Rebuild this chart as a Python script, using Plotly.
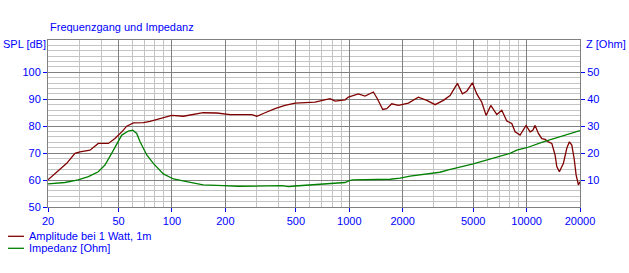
import plotly.graph_objects as go

# ---- data ----
spl_freq = [20, 22.9, 25.5, 28.4, 30.3, 34.5, 38.4, 43.8, 47.7, 52.1, 55.6, 60.6, 69, 75.2, 85.6,
            99.7, 116, 150, 179, 213, 282, 301, 335, 381, 434, 495, 641, 730, 779, 831, 947, 988,
            1125, 1227, 1367, 1440, 1544, 1627, 1736, 1891, 2154, 2452, 2736, 3046, 3394, 3702,
            4070, 4342, 4598, 4946, 5236, 5586, 5908, 6280, 6788, 7244, 7730, 8248, 8610, 9186,
            9932, 10462, 10834, 11164, 11652, 12178, 12712, 13270, 13868, 14472, 14796, 15304,
            16122, 16848, 17428, 17978, 18524, 19012, 19590, 20000]
spl_db = [60.1, 63.4, 66.2, 69.9, 70.5, 71.1, 73.6, 73.6, 75.4, 77.9, 80.0, 81.2, 81.3, 81.8, 82.8,
          84.0, 83.7, 85.0, 84.9, 84.3, 84.3, 83.7, 85.0, 86.5, 87.7, 88.6, 88.9, 89.9, 90.2, 89.3,
          89.8, 90.8, 92.0, 91.2, 92.7, 90.2, 86.2, 86.5, 88.3, 87.7, 88.6, 90.8, 89.6, 88.0, 89.6,
          91.4, 95.9, 92.0, 93.0, 96.1, 92.0, 88.9, 84.0, 87.7, 84.3, 85.9, 81.9, 81.0, 77.9, 76.7,
          80.3, 77.9, 78.5, 80.3, 77.3, 75.4, 75.1, 74.2, 73.6, 69.3, 65.0, 63.1, 66.2, 71.8, 74.2,
          73.0, 68.1, 61.9, 58.2, 59.4]

z_freq = [20, 24.9, 29.6, 33.8, 38.4, 41.9, 45.7, 48.8, 52.1, 56.8, 60.1, 63.3, 66.1, 72.1, 78.5,
          89.4, 102, 121, 150, 195, 236, 416, 455, 494, 668, 946, 1000, 1050, 1700, 1934, 2200,
          2850, 3240, 3620, 5000, 8070, 8800, 10000, 12400, 20000]
z_ohm = [8.6, 9.1, 10.1, 11.3, 13.1, 15.6, 19.9, 23.6, 26.7, 28.2, 28.5, 27.3, 24.2, 19.3, 16.2,
         12.3, 10.4, 9.4, 8.2, 7.9, 7.7, 7.9, 7.6, 7.8, 8.5, 9.1, 9.8, 10.1, 10.3, 10.7, 11.5,
         12.5, 12.9, 13.8, 16.0, 19.9, 21.1, 22.0, 24.2, 28.4]

series_names = ["Amplitude bei 1 Watt, 1m", "Impedanz [Ohm]"]
series_colors = ["#800000", "#008000"]

x_ticks = [20, 50, 100, 200, 500, 1000, 2000, 5000, 10000, 20000]
x_minor = sorted(set([m * d for d in (1, 10, 100) for m in (30, 40, 60, 70, 80, 90)]))
y_left_ticks = [50, 60, 70, 80, 90, 100]
y_left_minor = [v for v in range(52, 112, 2) if v % 10 != 0] + [110]
y_right_ticks = [10, 20, 30, 40, 50]

BLUE = "#0000ff"
DARK = "#808080"
LIGHT = "#c4c4c4"
FONT = "Liberation Sans"

fig = go.Figure()
fig.add_trace(go.Scatter(x=spl_freq, y=spl_db, mode="lines", name=series_names[0],
                         line=dict(color=series_colors[0], width=1.3), showlegend=False))
fig.add_trace(go.Scatter(x=z_freq, y=z_ohm, mode="lines", name=series_names[1], yaxis="y2",
                         line=dict(color=series_colors[1], width=1.3), showlegend=False))

# legend drawn as key lines + labels below the chart (positions in paper units)
key_y = [-0.1754, -0.2473]
shapes = []
annotations = []
for name, color, ky in zip(series_names, series_colors, key_y):
    shapes.append(dict(type="line", xref="paper", yref="paper", x0=-0.0752, x1=-0.0451,
                       y0=ky, y1=ky, line=dict(color=color, width=1.3)))
    annotations.append(dict(text=name, xref="paper", yref="paper", x=-0.0395, y=ky,
                            xanchor="left", yanchor="middle", showarrow=False,
                            font=dict(color=BLUE, size=11)))

annotations += [
    dict(text="Frequenzgang und Impedanz", xref="paper", yref="paper", x=0, y=1.078,
         xanchor="left", yanchor="middle", showarrow=False, font=dict(color=BLUE, size=11)),
    dict(text="SPL [dB]", xref="paper", yref="paper", x=-0.0884, y=0.976,
         xanchor="left", yanchor="middle", showarrow=False, font=dict(color=BLUE, size=11)),
    dict(text="Z [Ohm]", xref="paper", yref="paper", x=1.0075, y=0.976,
         xanchor="left", yanchor="middle", showarrow=False, font=dict(color=BLUE, size=11)),
]

fig.update_layout(
    width=629, height=273,
    margin=dict(l=48, r=49, t=40, b=66, autoexpand=False),
    paper_bgcolor="white", plot_bgcolor="white",
    font=dict(family=FONT, size=11, color=BLUE),
    xaxis=dict(type="log", range=[1.30103, 4.30103], tickvals=x_ticks,
               ticktext=[str(v) for v in x_ticks],
               showgrid=True, gridcolor=DARK, gridwidth=1,
               minor=dict(tickvals=x_minor, showgrid=True, gridcolor=LIGHT, gridwidth=1, ticklen=0),
               ticks="outside", ticklen=4, tickcolor=BLUE, tickfont=dict(color=BLUE, size=11),
               showline=True, linecolor=DARK, linewidth=1, mirror=True, zeroline=False),
    yaxis=dict(range=[50, 112], tickvals=y_left_ticks, showgrid=True, gridcolor=DARK, gridwidth=1,
               minor=dict(tickvals=y_left_minor, showgrid=True, gridcolor=LIGHT, gridwidth=1, ticklen=0),
               ticks="outside", ticklen=4, tickcolor=BLUE, tickfont=dict(color=BLUE, size=11),
               showline=True, linecolor=DARK, linewidth=1, mirror=True, zeroline=False),
    yaxis2=dict(range=[0, 62], overlaying="y", side="right", tickvals=y_right_ticks,
                showgrid=False, zeroline=False, ticks="outside", ticklen=4, tickcolor=BLUE,
                tickfont=dict(color=BLUE, size=11), showline=False),
    showlegend=False,
    shapes=shapes,
    annotations=annotations,
)

fig.write_html("out.html")
